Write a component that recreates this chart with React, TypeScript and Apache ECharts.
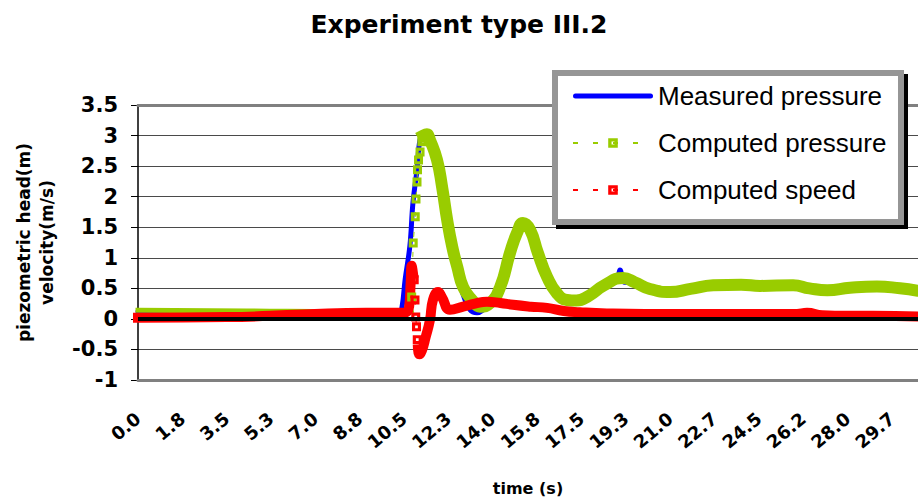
import React, { useEffect, useRef } from "react";
import * as echarts from "echarts";

const TITLE = "Experiment type III.2";
const X_NAME = "time (s)";
const Y_NAME = "piezometric head(m)\nvelocity(m/s)";
const X_LABELS = ["0.0", "1.8", "3.5", "5.3", "7.0", "8.8", "10.5", "12.3", "14.0", "15.8", "17.5", "19.3", "21.0", "22.7", "24.5", "26.2", "28.0", "29.7"];
const X_STEP = 1.75;
const X_MAX = 30.78;
const Y_MIN = -1;
const Y_MAX = 3.5;
const Y_STEP = 0.5;

const SERIES_NAMES = ["Measured pressure", "Computed pressure", "Computed speed"];

// Measured pressure
const measuredT = [0, 3, 6, 9, 10.3, 10.42, 10.54, 10.73, 10.85, 11.01, 11.13, 11.3, 11.5, 11.8, 12.0, 12.2, 12.43, 12.6, 12.83, 13.1, 13.38, 13.6, 13.9, 14.29, 14.68, 14.96, 15.19, 15.47, 15.78, 16.14, 16.53, 16.93, 17.36, 17.84, 18.43, 18.9, 19.02, 19.2, 19.5, 20.2, 21.0, 21.8, 22.7, 23.8, 24.55, 25.85, 26.5, 27.2, 28.1, 29.16, 30.07, 30.78];
const measuredV = [0.12, 0.12, 0.11, 0.11, 0.1, 0.2, 0.64, 1.2, 1.9, 2.44, 2.93, 3.05, 2.95, 2.55, 2.1, 1.55, 1.05, 0.75, 0.4, 0.15, 0.1, 0.14, 0.28, 0.52, 1.08, 1.41, 1.58, 1.46, 1.08, 0.69, 0.42, 0.31, 0.28, 0.36, 0.52, 0.64, 0.8, 0.6, 0.6, 0.48, 0.45, 0.49, 0.56, 0.57, 0.55, 0.58, 0.5, 0.47, 0.52, 0.54, 0.5, 0.47];

// Computed pressure: flat start, steep rise (separate markers), main wave
const pressFlatT = [0, 4.3, 8, 10.6, 10.78];
const pressFlatV = [0.14, 0.13, 0.12, 0.12, 0.13];
const pressRiseT = [10.8, 10.86, 10.94, 10.97, 11.01, 11.03, 11.07, 11.13, 11.2];
const pressRiseV = [0.36, 1.24, 1.67, 1.96, 2.24, 2.44, 2.6, 2.73, 2.9];
const pressMainT = [11.26, 11.4, 11.52, 11.8, 12.0, 12.2, 12.4, 12.6, 12.83, 13.18, 13.5, 13.9, 14.29, 14.68, 14.96, 15.19, 15.47, 15.78, 16.14, 16.53, 16.93, 17.3, 17.8, 18.4, 19.14, 19.6, 20.2, 21.0, 21.8, 22.7, 23.8, 24.55, 25.85, 26.5, 27.2, 28.1, 29.16, 30.07, 30.78];
const pressMainV = [3.0, 3.02, 2.93, 2.6, 2.16, 1.62, 1.18, 0.85, 0.52, 0.31, 0.2, 0.26, 0.52, 1.08, 1.41, 1.57, 1.46, 1.08, 0.69, 0.42, 0.31, 0.3, 0.38, 0.55, 0.67, 0.6, 0.49, 0.44, 0.49, 0.55, 0.56, 0.54, 0.55, 0.5, 0.47, 0.51, 0.53, 0.5, 0.46];

// Computed speed
const speedPreT = [0, 3.5, 6.5, 9, 10.5, 10.7, 10.76, 10.8, 10.85];
const speedPreV = [0.02, 0.03, 0.07, 0.1, 0.1, 0.2, 0.6, 0.87, 0.75];
const speedDropT = [10.9, 10.93, 10.96, 10.99, 11.02];
const speedDropV = [0.64, 0.31, 0.03, -0.13, -0.34];
const speedPostT = [11.05, 11.1, 11.2, 11.35, 11.52, 11.64, 11.84, 12.0, 12.31, 12.83, 13.3, 13.77, 14.3, 14.8, 15.5, 16.14, 16.8, 17.44, 18.5, 20, 22, 24, 26, 26.4, 27, 28, 29, 30.78];
const speedPostV = [-0.5, -0.58, -0.52, -0.3, -0.02, 0.31, 0.44, 0.35, 0.15, 0.2, 0.25, 0.28, 0.26, 0.23, 0.2, 0.18, 0.13, 0.11, 0.09, 0.08, 0.08, 0.08, 0.08, 0.1, 0.06, 0.05, 0.05, 0.04];

const pairs = (t: number[], v: number[]) => t.map((x, i) => [x, v[i]]);

const BLUE = "#0000FF";
const GREEN = "#99CC00";
const RED = "#FF0000";
const BOLD_FONT = "DejaVu Sans";
const MARKER = "path://M0,0H10V10H0ZM3.5,3.5V6.5H6.5V3.5Z";

export default function App() {
  const ref = useRef<HTMLDivElement>(null);
  useEffect(() => {
    document.body.style.margin = "0";
    if (!ref.current) return;
    const chart = echarts.init(ref.current, undefined, { renderer: "svg" });
    const xFormatter = (v: number) => {
      const i = Math.round(v / X_STEP);
      return Math.abs(v - i * X_STEP) < 1e-6 && i < X_LABELS.length ? X_LABELS[i] : "";
    };
    const markerSeries = (name: string, color: string, data: number[][]) => ({
      name,
      type: "line",
      data,
      symbol: MARKER,
      symbolSize: 9,
      symbolKeepAspect: true,
      showAllSymbol: true,
      itemStyle: { color },
      lineStyle: { color, width: 1, type: [5, 15] },
      z: 3,
    });
    const bandSeries = (name: string, color: string, data: number[][], width: number) => ({
      name,
      type: "line",
      data,
      symbol: "none",
      smooth: 0.5,
      lineStyle: { color, width, cap: "square", join: "round" },
      itemStyle: { color },
      z: 3,
    });
    chart.setOption({
      animation: false,
      backgroundColor: "#ffffff",
      title: {
        text: TITLE,
        left: "center",
        top: 7,
        textStyle: { fontFamily: BOLD_FONT, fontWeight: "bold", fontSize: 25, color: "#000" },
      },
      grid: { left: 138, right: 0, top: 105, bottom: 121, containLabel: false, outerBoundsMode: "none" },
      legend: {
        orient: "vertical",
        left: 572,
        top: 83,
        padding: 0,
        itemWidth: 80,
        itemHeight: 12,
        itemGap: 21,
        z: 10,
        selectedMode: false,
        textStyle: { fontFamily: "Liberation Sans", fontSize: 26, color: "#000" },
        data: [
          { name: SERIES_NAMES[0], icon: "path://M2.5,0H77.5A2.5,2.5 0 0 1 77.5,5H2.5A2.5,2.5 0 0 1 2.5,0Z" },
          { name: SERIES_NAMES[1] },
          { name: SERIES_NAMES[2] },
        ],
      },
      graphic: {
        elements: [
          { type: "rect", z: 5, shape: { x: 556, y: 74, width: 352, height: 155 }, style: { fill: "#000" }, silent: true },
          { type: "rect", z: 5, shape: { x: 555, y: 73, width: 346, height: 149 }, style: { fill: "#fff", stroke: "#969696", lineWidth: 6 }, silent: true },
        ],
      },
      xAxis: [
        {
          type: "value",
          min: 0,
          max: X_MAX,
          interval: X_STEP,
          position: "bottom",
          z: 1,
          axisLine: { show: true, onZero: false, lineStyle: { color: "#808080", width: 3 } },
          axisTick: { show: false },
          splitLine: { show: false },
          axisLabel: {
            formatter: xFormatter,
            rotate: 40,
            margin: 36,
            showMaxLabel: false,
            fontFamily: BOLD_FONT,
            fontWeight: "bold",
            fontSize: 18,
            color: "#000",
          },
          name: X_NAME,
          nameLocation: "middle",
          nameGap: 100,
          nameTextStyle: { fontFamily: BOLD_FONT, fontWeight: "bold", fontSize: 16, color: "#000" },
        },
        {
          type: "value",
          min: 0,
          max: X_MAX,
          interval: X_STEP,
          position: "top",
          z: 1,
          axisLine: { show: true, onZero: false, lineStyle: { color: "#808080", width: 3 } },
          axisTick: { show: false },
          axisLabel: { show: false },
          splitLine: { show: false },
        },
      ],
      yAxis: {
        type: "value",
        min: Y_MIN,
        max: Y_MAX,
        interval: Y_STEP,
        axisLine: { show: true, lineStyle: { color: "#000", width: 1.5 } },
        axisTick: { show: true, inside: false, length: 7, lineStyle: { color: "#000", width: 1 } },
        splitLine: { show: true, lineStyle: { color: "#4a4a4a", width: 1 } },
        axisLabel: {
          margin: 20,
          formatter: (v: number) => String(Number(v.toFixed(1))),
          fontFamily: BOLD_FONT,
          fontWeight: "bold",
          fontSize: 21,
          color: "#000",
        },
        name: Y_NAME,
        nameLocation: "middle",
        nameRotate: 90,
        nameGap: 80,
        nameTextStyle: { fontFamily: BOLD_FONT, fontWeight: "bold", fontSize: 17, lineHeight: 23, color: "#000", align: "center" },
      },
      series: [
        {
          name: SERIES_NAMES[0],
          type: "line",
          data: pairs(measuredT, measuredV),
          symbol: "none",
          smooth: 0.4,
          lineStyle: { color: BLUE, width: 5, cap: "round", join: "round" },
          itemStyle: { color: BLUE },
          z: 2,
          markLine: {
            silent: true,
            symbol: "none",
            label: { show: false },
            lineStyle: { color: "#000", width: 4, type: "solid" },
            data: [{ yAxis: 0 }],
          },
        },
        markerSeries(SERIES_NAMES[1], GREEN, pairs(pressRiseT, pressRiseV)),
        bandSeries(SERIES_NAMES[1], GREEN, pairs(pressFlatT, pressFlatV), 5),
        bandSeries(SERIES_NAMES[1], GREEN, pairs(pressMainT, pressMainV), 12),
        markerSeries(SERIES_NAMES[2], RED, pairs(speedDropT, speedDropV)),
        bandSeries(SERIES_NAMES[2], RED, pairs(speedPreT, speedPreV), 10),
        bandSeries(SERIES_NAMES[2], RED, pairs(speedPostT, speedPostV), 10),
      ],
    });
    return () => chart.dispose();
  }, []);
  return <div ref={ref} style={{ width: 918, height: 501 }} />;
}
